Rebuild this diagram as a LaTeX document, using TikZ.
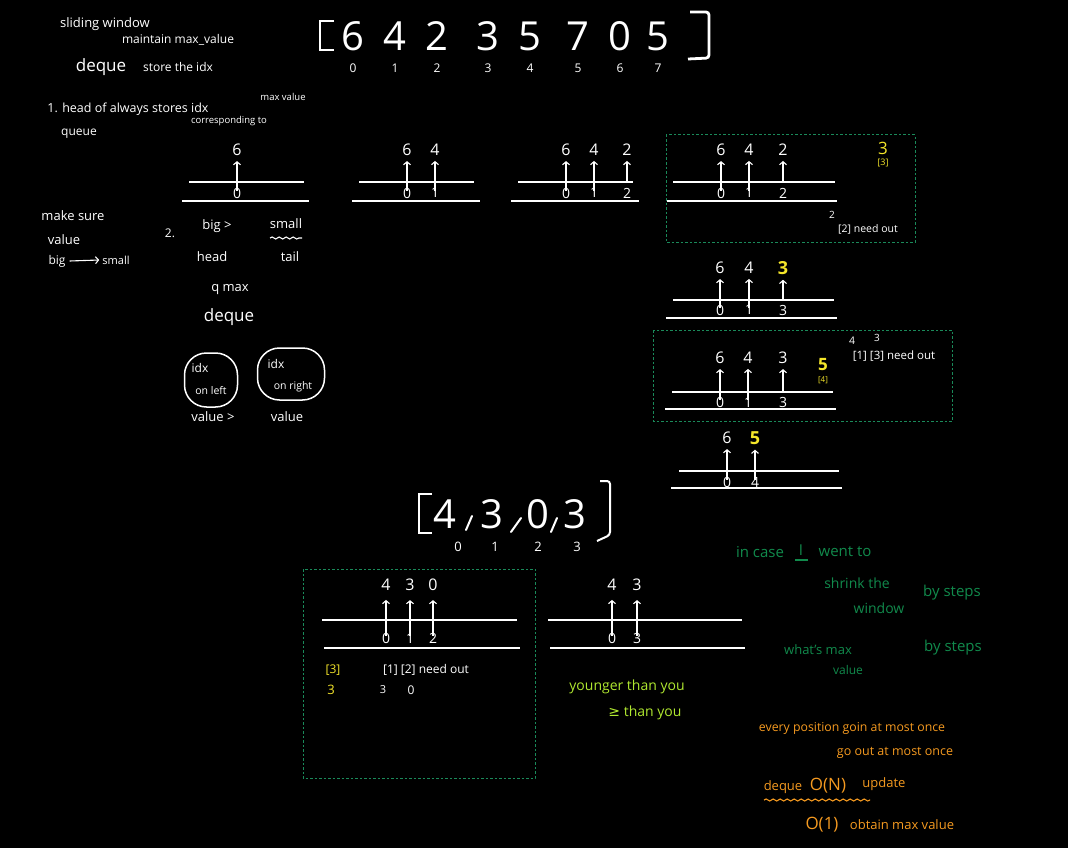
\documentclass[tikz,border=0pt]{standalone}
\usepackage{fontspec}
\setmainfont{Open Sans}
\newfontfamily\dejavu{DejaVu Sans}
\usetikzlibrary{arrows.meta,decorations.pathmorphing}
\definecolor{boxgreen}{HTML}{1A8A5A}
\definecolor{notegreen}{HTML}{118A4C}
\definecolor{hlyellow}{HTML}{F5E62A}
\definecolor{limegreen}{HTML}{B0E830}
\definecolor{noteorange}{HTML}{F59A20}
\newcommand\fsz[1]{\fontsize{#1}{#1}\selectfont}
% column of a queue: arrow from the index up to the value
\newcommand\qcol[7][]{%
  \node[qv,#1] (#2v) at (#3,#4) {#6};
  \node[qi] (#2i) at (#3,#5) {#7};
  \draw[qarrow] (#2i.north) -- (#2v.south);}
% column whose arrow starts at the upper line
\newcommand\qcolt[7][]{%
  \node[qv,#1] (#2v) at (#3,#4) {#6};
  \node[qi] (#2i) at (#3,#5) {#7};
  \draw[qarrow, shorten <=6pt] (#2i.north) -- (#2v.south);}
\begin{document}
\begin{tikzpicture}[x=1pt,y=-1pt,
  every node/.style={inner sep=0pt, text=white},
  qline/.style={draw=white, line width=1.5pt},
  qarrow/.style={draw=white, line width=1.1pt, -{Straight Barb[length=3pt,width=7pt]}, shorten >=5pt, shorten <=-3pt},
  qv/.style={font=\fsz{16}},
  qi/.style={font=\fsz{14}},
  dbox/.style={draw=boxgreen, line width=1pt, dash pattern=on 2.5pt off 2pt},
  blob/.style={draw=white, line width=1.5pt, rounded corners=22pt},
  wavy/.style={decorate, decoration={snake, amplitude=1pt, segment length=7pt}},
  hl/.style={text=hlyellow},
  hlb/.style={text=hlyellow, font=\fsz{18}\bfseries},
  gnote/.style={text=notegreen},
  onote/.style={text=noteorange},
  lnote/.style={text=limegreen},
  commastroke/.style={draw=white, line width=2pt, line cap=round}
]
\fill[black] (0,0) rectangle (1068,848);
\useasboundingbox (0,0) rectangle (1068,848);

% ---------- top-left notes ----------
\node[font=\fsz{13}] (t1) at (105,24) {sliding window};
\node[font=\fsz{12}] (t2) at (178,40) {maintain max\_value};
\node[font=\fsz{17}] (t3) at (101,67) {deque};
\node[font=\fsz{12}] (t4) at (178,67) {store the idx};
\node[font=\fsz{12.5}] (t5) at (128,109) {1. head of always stores idx};
\node[font=\fsz{9.5}] (t6) at (283,97) {max value};
\node[font=\fsz{9.5}] (t7) at (229,121) {corresponding to};
\node[font=\fsz{12}] (t8) at (79,134) {queue};

% ---------- main array ----------
\draw[white, line width=2.8pt] (334,21) -- (320,21) -- (320,50) -- (334,50);
\draw[white, line width=2.8pt, rounded corners=3pt] (690,12) -- (709,12) -- (709,58) -- (688,59);
\foreach \v/\x [count=\k from 0] in {6/353,4/395,2/437,3/488,5/530,7/578,0/620,5/658}{
  \node[font=\fsz{40}] (n\k) at (\x,36) {\v};
  \node[font=\fsz{12}] (x\k) at (\x,68) {\k};
}

% ---------- left notes ----------
\node[font=\fsz{13}] (m1) at (73,216) {make sure};
\node[font=\fsz{13}] (m2) at (64,240) {value};
\node[font=\fsz{12}] (m3) at (57,261) {big};
\node[font=\fsz{11}] (m4) at (116,260) {small};
\draw[white, line width=1.1pt, -{Straight Barb[length=3pt,width=7pt]}] (m3.east) ++(4,0) -- ([xshift=-3pt]m4.west);

\node[font=\fsz{12}] (s0) at (170,233) {2.};
\node[font=\fsz{13}] (s1) at (217,226) {big >};
\node[font=\fsz{13}] (s2) at (286,224) {small};
\draw[white, line width=1.1pt, wavy] (270,238) -- (302,238);
\node[font=\fsz{13}] (s3) at (212,257) {head};
\node[font=\fsz{13}] (s4) at (290,257) {tail};
\node[font=\fsz{13}] (s5) at (230,290) {q max};
\node[font=\fsz{17}] (s6) at (229,317) {deque};

\node[blob, minimum width=53pt, minimum height=54pt] (b1) at (211,380) {};
\node[font=\fsz{12}] (b1a) at (200,368) {idx};
\node[font=\fsz{10.5}] (b1b) at (211,391) {on left};
\node[blob, minimum width=67pt, minimum height=52pt] (b2) at (291,374) {};
\node[font=\fsz{12}] (b2a) at (276,364) {idx};
\node[font=\fsz{10.5}] (b2b) at (293,387) {on right};
\node[font=\fsz{13}] (b3) at (213,417) {value >};
\node[font=\fsz{13}] (b4) at (287,417) {value};

% ---------- queue 1 ----------
\draw[qline] (189,182) -- (304,182);
\draw[qline] (182,201) -- (309,201);
\qcol{a0}{237}{150}{193}{6}{0}

% ---------- queue 2 ----------
\draw[qline] (359,182) -- (474,182);
\draw[qline] (352,201) -- (480,201);
\qcol{b0}{407}{150}{193}{6}{0}
\qcol{b1}{435}{150}{193}{4}{1}

% ---------- queue 3 ----------
\draw[qline] (518,182) -- (633,182);
\draw[qline] (511,201) -- (639,201);
\qcol{c0}{566}{150}{193}{6}{0}
\qcol{c1}{594}{150}{193}{4}{1}
\qcolt{c2}{627}{150}{193}{2}{2}

% ---------- queue 4 (boxed) ----------
\draw[dbox] (666,135) rectangle (915,242);
\draw[qline] (673,182) -- (835,182);
\draw[qline] (667,201) -- (837,201);
\qcol{d0}{721}{150}{193}{6}{0}
\qcol{d1}{749}{150}{193}{4}{1}
\qcolt{d2}{783}{150}{193}{2}{2}
\node[hl, font=\fsz{17}] (d3) at (883,148) {3};
\node[hl, font=\fsz{9}] (d4) at (883,163) {[3]};
\node[font=\fsz{10}] (d5) at (832,215) {2};
\node[font=\fsz{10.5}] (d6) at (868,229) {[2] need out};

% ---------- queue 5 ----------
\draw[qline] (673,300) -- (834,300);
\draw[qline] (666,318) -- (837,318);
\qcol{e0}{720}{268}{310}{6}{0}
\qcol{e1}{749}{268}{310}{4}{1}
\qcolt[hlb]{e2}{783}{268}{310}{3}{3}

% ---------- queue 6 (boxed) ----------
\draw[dbox] (653,330) rectangle (952,421);
\draw[qline] (672,392) -- (833,392);
\draw[qline] (665,409) -- (836,409);
\qcol{f0}{720}{358}{402}{6}{0}
\qcol{f1}{748}{358}{402}{4}{1}
\qcolt{f2}{783}{358}{402}{3}{3}
\node[hl, font=\fsz{17}\bfseries] (f3) at (823,365) {5};
\node[hl, font=\fsz{8}] (f4) at (823,380) {[4]};
\node[font=\fsz{10.5}] (f5) at (852,341) {4};
\node[font=\fsz{10}] (f6) at (877,338) {3};
\node[font=\fsz{11.5}] (f7) at (894,356) {[1] [3] need out};

% ---------- queue 7 ----------
\draw[qline] (679,471) -- (839,471);
\draw[qline] (671,488) -- (842,488);
\qcol{g0}{727}{438}{482}{6}{0}
\qcol[hlb]{g1}{755}{438}{482}{5}{4}

% ---------- second array ----------
\draw[white, line width=2pt] (432,494) -- (419,494) -- (419,533) -- (432,533);
\draw[white, line width=2pt, rounded corners=3pt] (600,481) -- (610,481) -- (610,535) -- (597,541);
\foreach \v/\x [count=\k from 0] in {4/445,3/492,0/538,3/575}{
  \node[font=\fsz{40}] (p\k) at (\x,514) {\v};
}
\draw[commastroke] (472,516) -- (466,530);
\draw[commastroke] (521,518) -- (511,532);
\draw[commastroke] (557,518) -- (551,532);
\foreach \x [count=\k from 0] in {458,495,538,577}{
  \node[font=\fsz{13}] (pi\k) at (\x,547) {\k};
}

% ---------- queue 8 (boxed) ----------
\draw[dbox] (303,569) rectangle (535,778);
\draw[qline] (322,620) -- (517,620);
\draw[qline] (324,648) -- (520,648);
\begin{scope}[qarrow/.append style={shorten >=9pt}]
\qcol{h0}{386}{585}{638}{4}{0}
\qcol{h1}{410}{585}{638}{3}{1}
\qcol{h2}{433}{585}{638}{0}{2}
\end{scope}
\node[hl, font=\fsz{12}] (h3) at (333,670) {[3]};
\node[hl, font=\fsz{13}] (h4) at (331,690) {3};
\node[font=\fsz{12}] (h5) at (426,670) {[1] [2] need out};
\node[font=\fsz{11}] (h6) at (383,690) {3};
\node[font=\fsz{12}] (h7) at (411,690) {0};

% ---------- queue 9 ----------
\draw[qline] (548,620) -- (742,620);
\draw[qline] (550,648) -- (745,648);
\begin{scope}[qarrow/.append style={shorten >=9pt}]
\qcol{k0}{612}{585}{638}{4}{0}
\qcol{k1}{637}{585}{638}{3}{3}
\end{scope}
\node[lnote, font=\fsz{14}] (y1) at (627,687) {younger than you};
\node[lnote, font=\fsz{14}] (y2) at (645,713) {{\dejavu ≥} than you};

% ---------- green notes ----------
\node[gnote, font=\fsz{15}] (g1) at (760,552) {in case};
\node[gnote, font=\fsz{15}] (g2) at (801,550) {I};
\draw[notegreen, line width=1.2pt] (795,560) -- (808,560);
\node[gnote, font=\fsz{15}] (g3) at (845,552) {went to};
\node[gnote, font=\fsz{14}] (g4) at (857,583) {shrink the};
\node[gnote, font=\fsz{14}] (g5) at (879,608) {window};
\node[gnote, font=\fsz{15}] (g6) at (952,593) {by steps};
\node[gnote, font=\fsz{13}] (g7) at (818,650) {what's max};
\node[gnote, font=\fsz{12}] (g8) at (848,670) {value};
\node[gnote, font=\fsz{15}] (g9) at (953,648) {by steps};

% ---------- orange notes ----------
\node[onote, font=\fsz{12.3}] (o1) at (852,728) {every position goin at most once};
\node[onote, font=\fsz{12.5}] (o2) at (895,753) {go out at most once};
\node[onote, font=\fsz{13}] (o3) at (783,787) {deque};
\node[onote, font=\fsz{17}] (o4) at (828,786) {O(N)};
\node[onote, font=\fsz{13}] (o5) at (884,784) {update};
\draw[noteorange, line width=1.1pt, wavy] (764,800) -- (870,800);
\node[onote, font=\fsz{17}] (o6) at (822,825) {O(1)};
\node[onote, font=\fsz{13}] (o7) at (902,825) {obtain max value};
\end{tikzpicture}
\end{document}
